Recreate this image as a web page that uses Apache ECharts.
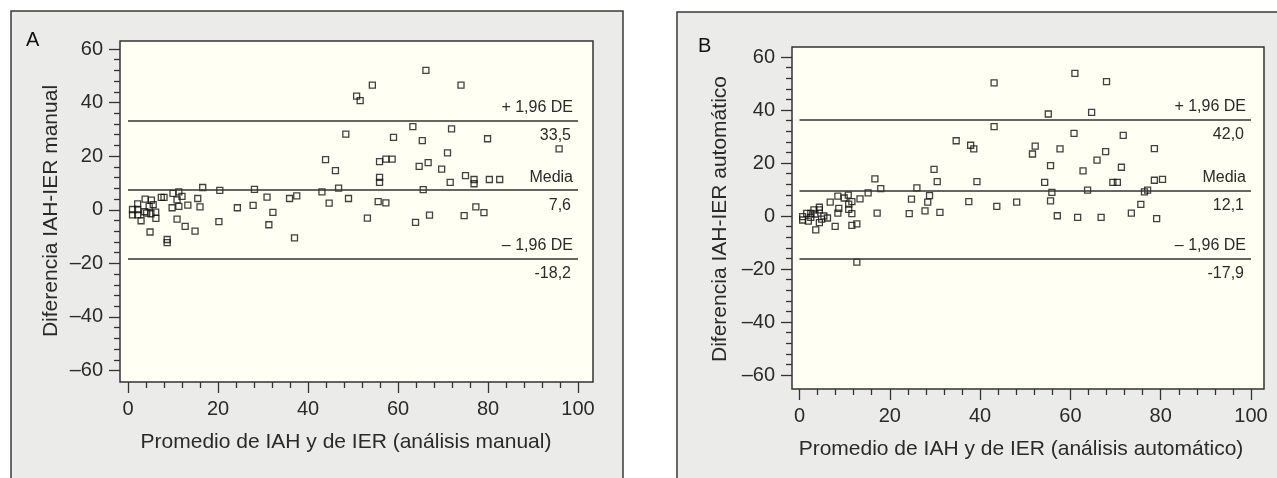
<!DOCTYPE html>
<html><head><meta charset="utf-8">
<script src="https://cdn.jsdelivr.net/npm/echarts@6/dist/echarts.min.js"></script>
<style>html,body{margin:0;padding:0;background:#fff}#c{width:1277px;height:478px}</style>
</head><body><div id="c"></div>
<script>
// Panel A (manual)
const aX = [1.0,1.0,2.15,2.15,2.15,2.9,3.8,3.7,4.15,4.7,4.9,5.2,5.1,5.6,6.15,6.2,7.4,8.0,8.7,8.7,9.8,10.0,10.9,10.9,11.3,11.3,12.0,12.7,13.3,14.9,15.5,16.0,16.6,20.2,20.4,24.3,27.8,28.1,30.9,31.3,32.2,35.9,37.0,37.5,43.1,43.9,44.7,46.1,46.8,49.0,53.2,66.2,54.3,74.0,50.8,51.6,48.4,63.3,71.9,59.0,65.4,79.9,95.8,71.0,55.9,57.3,58.7,64.7,66.7,69.7,55.9,55.9,75.0,76.9,76.9,71.6,80.3,82.6,65.6,55.6,57.3,63.9,67.0,74.7,77.3,79.1];
const aY = [0.1,-1.9,2.2,0.1,-1.9,-4.1,4.0,-0.75,-1.25,1.25,-8.3,3.6,-1.5,1.9,-0.9,-3.2,4.6,4.6,-11.1,-12.3,0.75,6.1,-3.5,3.7,6.7,1.25,5.0,-6.2,1.7,-8.0,4.2,1.1,8.3,-4.4,7.2,0.75,1.6,7.6,4.7,-5.6,-1.0,4.2,-10.5,5.2,6.7,18.7,2.5,14.6,8.1,4.2,-3.1,52.0,46.5,46.5,42.4,40.7,28.2,31.0,30.2,27.0,25.8,26.5,22.7,21.2,18.0,18.9,18.9,16.2,17.6,15.2,12.1,10.2,12.7,11.3,9.7,10.2,11.3,11.3,7.5,3.0,2.6,-4.7,-2.0,-2.2,1.1,-1.1];
const aLines = [33.4, 7.3, -18.3];
const aTopLabels = ['+ 1,96 DE', 'Media', '\u2013 1,96 DE'];
const aBottomLabels = ['33,5', '7,6', '-18,2'];

// Panel B (automatic)
const bX = [0.7,0.7,1.6,1.96,2.5,2.5,3.2,3.6,3.4,4.4,4.4,4.4,4.9,5.4,6.2,6.8,7.9,8.5,8.5,8.7,9.9,10.8,10.9,10.9,11.6,11.6,11.6,12.7,13.4,15.2,16.7,17.2,18.0,24.3,24.8,26.0,27.8,28.4,28.8,29.8,30.5,31.1,34.7,37.5,37.9,38.6,39.3,12.7,43.7,48.1,43.1,61.0,68.0,55.1,64.7,43.1,60.8,71.7,52.2,51.6,57.7,78.6,67.8,65.9,55.6,71.3,62.8,54.3,69.4,70.4,78.6,80.4,55.9,63.8,76.4,77.1,55.6,57.1,61.6,66.8,73.5,75.6,79.1];
const bY = [-0.25,-1.5,1.0,-1.9,1.0,-0.5,2.3,-5.2,0.75,3.3,2.3,-2.5,-1.2,0,-0.75,5.2,-3.9,7.5,1.1,2.9,6.8,7.9,4.5,2.5,5.4,0.9,-3.5,-3.0,6.5,8.7,14.0,1.1,10.3,0.9,6.4,10.6,1.9,5.2,7.7,17.6,13.0,1.4,28.4,5.4,26.7,25.3,13.0,-17.4,3.6,5.2,50.2,53.8,50.7,38.5,39.1,33.7,31.2,30.4,26.4,23.4,25.3,25.4,24.3,21.1,19.0,18.4,17.0,12.7,12.7,12.7,13.5,13.8,8.9,9.8,9.1,9.8,5.7,0.1,-0.5,-0.5,1.1,4.4,-1.0];
const bLines = [36.2, 9.7, -16.0];
const bTopLabels = ['+ 1,96 DE', 'Media', '\u2013 1,96 DE'];
const bBottomLabels = ['42,0', '12,1', '-17,9'];

const xTicks = [0, 20, 40, 60, 80, 100];
const yTicks = [-60, -40, -20, 0, 20, 40, 60];

const FONT = '"Liberation Sans", Arial, Helvetica, sans-serif';
const TXT = '#2a2a2a';

function pts(xs, ys) { return xs.map((x, i) => [x, ys[i]]); }
function markLines(vals, tops, bots) {
  const d = [];
  vals.forEach((v, i) => {
    d.push([{coord: [xTicks[0], v], label: {show: true, position: 'insideEndTop', formatter: tops[i], distance: 5}},
            {coord: [xTicks[xTicks.length - 1], v]}]);
    d.push([{coord: [xTicks[0], v], lineStyle: {width: 0, color: 'rgba(0,0,0,0)'}, label: {show: true, position: 'insideEndBottom', formatter: bots[i], distance: 7}},
            {coord: [xTicks[xTicks.length - 1], v]}]);
  });
  return d;
}
function dataX(grid, off) {
  return {type: 'value', gridIndex: grid, min: xTicks[0], max: xTicks[xTicks.length - 1], interval: 20, offset: off,
    axisLine: {show: false, onZero: false}, splitLine: {show: false},
    axisTick: {show: true, length: 11, lineStyle: {color: '#333', width: 1.3}},
    minorTick: {show: true, splitNumber: 5, length: 6, lineStyle: {color: '#333', width: 1.3}},
    axisLabel: {margin: 17, fontSize: 20, color: TXT, fontFamily: FONT}};
}
function dataY(grid, off) {
  return {type: 'value', gridIndex: grid, min: yTicks[0], max: yTicks[yTicks.length - 1], interval: 20, offset: off,
    axisLine: {show: false, onZero: false}, splitLine: {show: false},
    axisTick: {show: true, length: 11, lineStyle: {color: '#333', width: 1.3}},
    minorTick: {show: true, splitNumber: 5, length: 6, lineStyle: {color: '#333', width: 1.3}},
    axisLabel: {margin: 17, fontSize: 20, color: TXT, fontFamily: FONT,
      formatter: v => v < 0 ? '\u2013' + Math.abs(v) : String(v)}};
}
const hid = (g) => ({type: 'value', gridIndex: g, show: false, min: 0, max: 1});
const markStyle = {symbol: 'none', silent: true, animation: false,
  lineStyle: {color: '#333', width: 1.5, type: 'solid'},
  label: {color: TXT, fontSize: 16, fontFamily: FONT}, emphasis: {disabled: true}};
const scatterStyle = {symbol: 'rect', symbolSize: 6,
  itemStyle: {color: 'rgba(0,0,0,0)', borderColor: '#111', borderWidth: 1.3}};

const chart = echarts.init(document.getElementById('c'), null, {renderer: 'canvas'});
chart.setOption({
  animation: false,
  backgroundColor: '#fff',
  graphic: [
    {type: 'rect', z: -10, shape: {x: 11, y: 11, width: 612, height: 480}, style: {fill: '#ebebea', stroke: '#3a3a3a', lineWidth: 1.5}},
    {type: 'rect', z: -10, shape: {x: 677, y: 12, width: 640, height: 480}, style: {fill: '#ebebea', stroke: '#3a3a3a', lineWidth: 1.5}},
    {type: 'text', left: 26, top: 30, style: {text: 'A', font: '20px ' + FONT, fill: '#111'}},
    {type: 'text', left: 698, top: 36, style: {text: 'B', font: '20px ' + FONT, fill: '#111'}},
    {type: 'text', x: 51, y: 211, rotation: Math.PI / 2, style: {text: 'Diferencia IAH-IER manual', font: '21px ' + FONT, fill: TXT, align: 'center', verticalAlign: 'middle'}},
    {type: 'text', x: 720, y: 219, rotation: Math.PI / 2, style: {text: 'Diferencia IAH-IER automático', font: '21px ' + FONT, fill: TXT, align: 'center', verticalAlign: 'middle'}},
    {type: 'text', x: 346, y: 442, style: {text: 'Promedio de IAH y de IER (análisis manual)', font: '21px ' + FONT, fill: TXT, align: 'center', verticalAlign: 'middle'}},
    {type: 'text', x: 1021, y: 449, style: {text: 'Promedio de IAH y de IER (análisis automático)', font: '21px ' + FONT, fill: TXT, align: 'center', verticalAlign: 'middle'}}
  ],
  grid: [
    {left: 120, top: 41, width: 473, height: 341, show: true, backgroundColor: '#fffff3', borderColor: '#333', borderWidth: 1.5},
    {left: 128, top: 49, width: 450, height: 321.5},
    {left: 792, top: 47, width: 472, height: 342, show: true, backgroundColor: '#fffff3', borderColor: '#333', borderWidth: 1.5},
    {left: 799.5, top: 57, width: 451.5, height: 318}
  ],
  xAxis: [hid(0), dataX(1, 11.5), hid(2), dataX(3, 14)],
  yAxis: [hid(0), dataY(1, 8), hid(2), dataY(3, 7.5)],
  series: [
    Object.assign({type: 'scatter', xAxisIndex: 1, yAxisIndex: 1, data: pts(aX, aY),
      markLine: Object.assign({data: markLines(aLines, aTopLabels, aBottomLabels)}, markStyle)}, scatterStyle),
    Object.assign({type: 'scatter', xAxisIndex: 3, yAxisIndex: 3, data: pts(bX, bY),
      markLine: Object.assign({data: markLines(bLines, bTopLabels, bBottomLabels)}, markStyle)}, scatterStyle)
  ]
});
</script></body></html>
